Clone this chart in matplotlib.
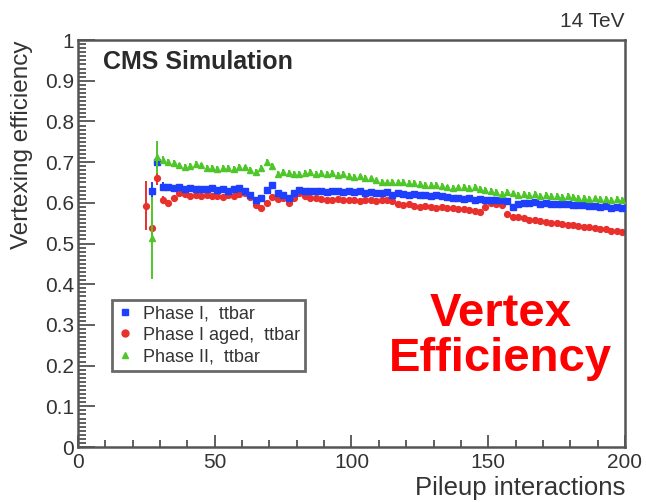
import numpy as np
import matplotlib
matplotlib.use('Agg')
from matplotlib import pyplot as plt
from matplotlib.lines import Line2D
from matplotlib.ticker import MultipleLocator, FormatStrFormatter

plt.rcParams['font.family'] = ['Liberation Sans', 'DejaVu Sans']

# pileup bins (every 2 interactions)
pileup = np.arange(25, 201, 2)

phase1 = [np.nan, 0.63, 0.70, 0.64, 0.638, 0.636, 0.638, 0.635, 0.636, 0.634,
          0.635, 0.633, 0.636, 0.632, 0.634, 0.63, 0.633, 0.636, 0.628, 0.62,
          0.607, 0.612, 0.632, 0.645, 0.625, 0.62, 0.612, 0.625, 0.632, 0.628,
          0.63, 0.628, 0.63, 0.627, 0.63, 0.628, 0.627, 0.629, 0.626, 0.628,
          0.625, 0.627, 0.624, 0.623, 0.626, 0.62, 0.623, 0.621, 0.62, 0.622,
          0.619, 0.62, 0.618, 0.619, 0.616, 0.614, 0.612, 0.613, 0.61, 0.611,
          0.608, 0.609, 0.607, 0.608, 0.606, 0.607, 0.605, 0.59, 0.596, 0.6,
          0.599, 0.601, 0.598, 0.6, 0.597, 0.598, 0.596, 0.597, 0.595, 0.594,
          0.595, 0.592, 0.593, 0.59, 0.591, 0.588, 0.589, 0.587]

phase1_aged = [0.593, 0.538, 0.66, 0.607, 0.6, 0.612, 0.625, 0.622, 0.618, 0.62,
               0.617, 0.62, 0.616, 0.618, 0.615, 0.62, 0.617, 0.622, 0.625, 0.615,
               0.595, 0.588, 0.6, 0.615, 0.61, 0.612, 0.6, 0.612, 0.625, 0.618,
               0.613, 0.612, 0.61, 0.608, 0.607, 0.609, 0.606, 0.608, 0.607, 0.605,
               0.607, 0.606, 0.605, 0.606, 0.607, 0.604, 0.596, 0.595, 0.597, 0.592,
               0.59, 0.593, 0.59, 0.588, 0.59, 0.588, 0.588, 0.586, 0.585, 0.583,
               0.58, 0.578, 0.59, 0.6, 0.597, 0.594, 0.572, 0.566, 0.565, 0.562,
               0.558, 0.559, 0.556, 0.552, 0.55, 0.551, 0.548, 0.545, 0.546, 0.542,
               0.54, 0.541, 0.538, 0.536, 0.535, 0.532, 0.531, 0.529]

phase2 = [np.nan, 0.514, 0.712, 0.705, 0.70, 0.698, 0.692, 0.688, 0.69, 0.695,
          0.692, 0.685, 0.686, 0.684, 0.685, 0.686, 0.684, 0.688, 0.687, 0.68,
          0.676, 0.685, 0.70, 0.69, 0.672, 0.676, 0.674, 0.67, 0.672, 0.674,
          0.675, 0.672, 0.674, 0.671, 0.673, 0.668, 0.67, 0.666, 0.664, 0.665,
          0.662, 0.66, 0.655, 0.652, 0.65, 0.652, 0.65, 0.651, 0.648, 0.649,
          0.646, 0.645, 0.644, 0.643, 0.641, 0.638, 0.637, 0.638, 0.64, 0.636,
          0.64, 0.635, 0.632, 0.63, 0.626, 0.622, 0.626, 0.623, 0.62, 0.622,
          0.62, 0.621, 0.618, 0.62, 0.616, 0.617, 0.615, 0.616, 0.614, 0.612,
          0.613, 0.61, 0.611, 0.609, 0.61, 0.608, 0.609, 0.607]

# statistical errors: large in the first bins, small afterwards
n = len(pileup)
phase1_err = [0.0, 0.02, 0.015, 0.01] + [0.007] * (n - 4)
phase1_aged_err = [0.06, 0.02, 0.015, 0.01] + [0.007] * (n - 4)
phase2_err = [0.0, 0.1, 0.04, 0.01] + [0.007] * (n - 4)

labels = ['Phase I,  ttbar', 'Phase I aged,  ttbar', 'Phase II,  ttbar']
markers = ['s', 'o', '^']
colors = ['#1f3fff', '#e8302c', '#4fc62a']

fig = plt.figure(figsize=(6.46, 5.03), dpi=100)
ax = fig.add_axes([0.1207, 0.1113, 0.8467, 0.8091])

series = [(phase1, phase1_err, 3), (phase1_aged, phase1_aged_err, 2), (phase2, phase2_err, 4)]
for (vals, errs, z), m, c in zip(series, markers, colors):
    ax.errorbar(pileup, vals, yerr=errs, fmt=m, ms=4.2, color=c, mec=c,
                elinewidth=1.4, capsize=0, zorder=z)

ax.set_xlim(0, 200)
ax.set_ylim(0, 1)
ax.xaxis.set_major_locator(MultipleLocator(50))
ax.xaxis.set_minor_locator(MultipleLocator(10))
ax.yaxis.set_major_locator(MultipleLocator(0.1))
ax.yaxis.set_minor_locator(MultipleLocator(0.01))
ax.yaxis.set_major_formatter(FormatStrFormatter('%g'))

ax.tick_params(which='both', direction='in', top=False, right=False,
               colors='#444444', width=1.2, labelcolor='#333333', labelsize=15)
ax.tick_params(axis='y', which='major', length=12, pad=3)
ax.tick_params(axis='y', which='minor', length=6)
ax.tick_params(axis='x', which='major', length=9, pad=4)
ax.tick_params(axis='x', which='minor', length=5)
for s in ax.spines.values():
    s.set_color('#555555')
    s.set_linewidth(1.8)

ax.set_xlabel('Pileup interactions', fontsize=18.5, color='#333333', loc='right')
ax.xaxis.set_label_coords(1.0, -0.072)
ax.xaxis.label.set_va('top')
ax.set_ylabel('Vertexing efficiency', fontsize=17.5, color='#333333', loc='top')
ax.yaxis.set_label_coords(-0.082, 1.0)

ax.text(0.046, 0.975, 'CMS Simulation', transform=ax.transAxes, fontsize=18,
        fontweight='bold', color='#2a2a2a', va='top', ha='left')
ax.text(1.0, 1.022, '14 TeV', transform=ax.transAxes, fontsize=15,
        color='#333333', va='bottom', ha='right')
ax.text(0.773, 0.382, 'Vertex\nEfficiency', transform=ax.transAxes, fontsize=34,
        fontweight='bold', color='#ff0000', va='top', ha='center',
        multialignment='center', linespacing=1.05)

handles = [Line2D([], [], ls='none', marker=m, color=c, ms=5) for m, c in zip(markers, colors)]
leg = ax.legend(handles, labels, loc='upper left', bbox_to_anchor=(0.062, 0.362),
                borderaxespad=0, fontsize=13, frameon=True, fancybox=False,
                handlelength=0.8, handletextpad=0.6, labelspacing=0.25,
                borderpad=0.3, edgecolor='#444444')
leg.get_frame().set_linewidth(2)
for t in leg.get_texts():
    t.set_color('#333333')

fig.savefig('out.png', dpi=100)
